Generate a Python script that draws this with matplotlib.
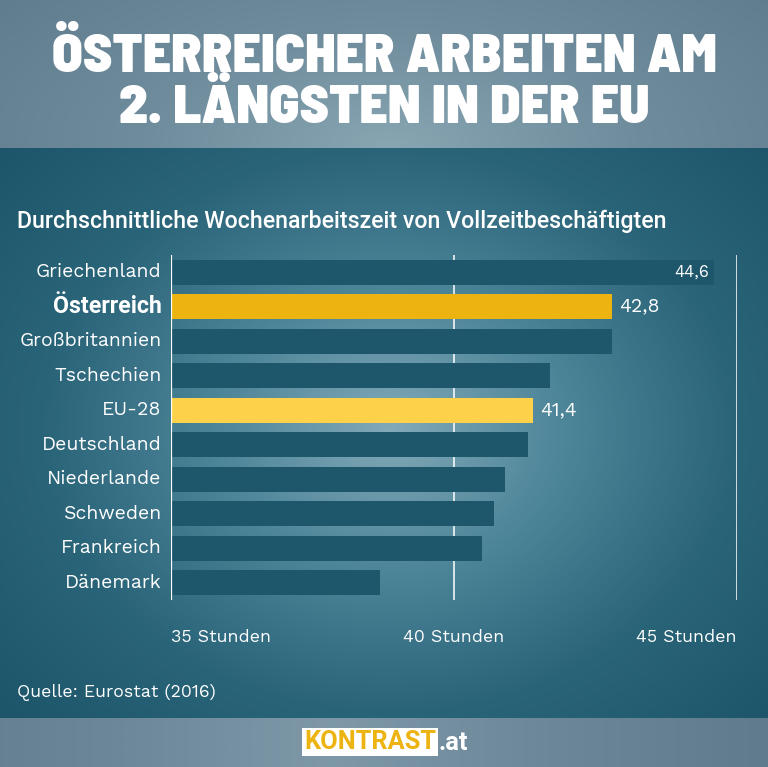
import numpy as np
import matplotlib.pyplot as plt
from matplotlib.colors import LinearSegmentedColormap

W, H = 768, 767

countries = ["Griechenland", "Österreich", "Großbritannien", "Tschechien", "EU-28",
             "Deutschland", "Niederlande", "Schweden", "Frankreich", "Dänemark"]
hours = [44.6, 42.8, 42.8, 41.7, 41.4, 41.3, 40.9, 40.7, 40.5, 38.7]
shown_values = {0: "44,6", 1: "42,8", 4: "41,4"}
ticks = [35, 40, 45]
tick_labels = ["35 Stunden", "40 Stunden", "45 Stunden"]

bar_col = "#1e566b"
col_at = "#edb311"
col_eu = "#fed14b"
colors = [bar_col] * len(countries)
colors[1] = col_at
colors[4] = col_eu

body = ["Work Sans", "IBM Plex Sans", "DejaVu Sans"]
body_bold = ["Roboto", "DejaVu Sans"]
head = ["Barlow Semi Condensed", "Roboto Condensed", "DejaVu Sans"]
logo = ["Roboto", "DejaVu Sans"]

fig = plt.figure(figsize=(W / 100, H / 100), dpi=100)
renderer = fig.canvas.get_renderer()


def fit_width(t, target):
    # shrink/grow a text until it covers target pixels in width
    for _ in range(3):
        w = t.get_window_extent(renderer).width
        t.set_fontsize(t.get_fontsize() * target / w)


# background (pixel coordinates)
bg = fig.add_axes([0, 0, 1, 1])
bg.axis("off")

yy, xx = np.mgrid[0:H, 0:W]
r = np.sqrt(((xx - 390) / 520.0) ** 2 + ((yy - 430) / 420.0) ** 2)
r = np.clip(r, 0, 1)
cmap_main = LinearSegmentedColormap.from_list("m", ["#82a9b8", "#4d8599", "#2a6478", "#1d566a"])
bg.imshow(r, cmap=cmap_main, extent=[0, W, H, 0], aspect="auto", zorder=0)

# title band
ty, tx = np.mgrid[0:150, 0:W]
rt = np.sqrt(((tx - 390) / 520.0) ** 2 + ((ty - 150) / 260.0) ** 2)
rt = np.clip(rt, 0, 1)
cmap_top = LinearSegmentedColormap.from_list("t", ["#88a5b2", "#6e8c9c", "#5f7d8e"])
bg.imshow(rt, cmap=cmap_top, extent=[0, W, 148, 0], aspect="auto", zorder=1)

# footer band
fy, fx = np.mgrid[0:50, 0:W]
rf = np.clip(np.abs(fx - 330) / 520.0, 0, 1)
cmap_bot = LinearSegmentedColormap.from_list("f", ["#7e98a8", "#6c8799", "#5f7b8d"])
bg.imshow(rf, cmap=cmap_bot, extent=[0, W, H, 718], aspect="auto", zorder=1)
bg.set_xlim(0, W)
bg.set_ylim(H, 0)

t1 = bg.text(384, 72, "ÖSTERREICHER ARBEITEN AM", color="white", fontsize=40,
             fontweight=900, family=head, ha="center", va="baseline", zorder=3)
t2 = bg.text(384, 123, "2. LÄNGSTEN IN DER EU", color="white", fontsize=40,
             fontweight=900, family=head, ha="center", va="baseline", zorder=3)
fit_width(t1, 665)
t2.set_fontsize(t1.get_fontsize())

st = bg.text(17, 221, "Durchschnittliche Wochenarbeitszeit von Vollzeitbeschäftigten",
             color="white", fontsize=14, fontweight="medium", family=body_bold,
             ha="left", va="center", zorder=3)
fit_width(st, 650)
src = bg.text(17, 692, "Quelle: Eurostat (2016)", color="white", fontsize=12.5,
              family=body, ha="left", va="center", zorder=3)
fit_width(src, 198)

# logo
k = bg.text(436, 742, "KONTRAST", color=col_at, fontsize=16, fontweight="bold",
            family=logo, ha="right", va="center", zorder=4,
            bbox=dict(boxstyle="square,pad=0.06", fc="white", ec="none"))
fit_width(k, 132)
bg.text(438, 743, ".at", color="white", fontsize=k.get_fontsize(), fontweight="bold",
        family=logo, ha="left", va="center", zorder=4)

# chart
x0, x1 = 171, 737
top, bottom = 255, 600
ax = fig.add_axes([x0 / W, 1 - bottom / H, (x1 - x0) / W, (bottom - top) / H])
ax.patch.set_alpha(0)
ypos = np.arange(len(countries))
ax.barh(ypos, [h - 35 for h in hours], left=35, height=0.73, color=colors, zorder=2)
ax.set_xlim(35, 45)
ax.set_ylim(9.5, -0.5)
for t in ticks:
    ax.axvline(t, color="white", lw=1.6 if t == 35 else 1.1, zorder=3 if t == 35 else 1)
for s in ax.spines.values():
    s.set_visible(False)
ax.set_xticks([])
ax.set_yticks([])

lab_size = None
for i, name in enumerate(countries):
    tl = ax.text(34.83, i, name, color="white", fontsize=14, family=body,
                 ha="right", va="center")
    if i == 0:
        fit_width(tl, 126)
        lab_size = tl.get_fontsize()
    else:
        tl.set_fontsize(lab_size)
    if i == 1:
        tl.set_family(body_bold)
        tl.set_fontweight("bold")
        fit_width(tl, 109)

for i, lab in shown_values.items():
    if i == 0:
        ax.text(hours[i] - 0.09, i, lab, color="white", fontsize=lab_size * 0.85, family=body,
                ha="right", va="center", zorder=4)
    else:
        ax.text(hours[i] + 0.12, i, lab, color="white", fontsize=lab_size, family=body,
                ha="left", va="center", zorder=4)

tick_size = None
for t, lab, ha in zip(ticks, tick_labels, ["left", "center", "right"]):
    tt = ax.text(t, 10.6, lab, color="white", fontsize=13, family=body,
                 ha=ha, va="center", clip_on=False)
    if tick_size is None:
        fit_width(tt, 100)
        tick_size = tt.get_fontsize()
    else:
        tt.set_fontsize(tick_size)

fig.savefig("out.png", dpi=100)
